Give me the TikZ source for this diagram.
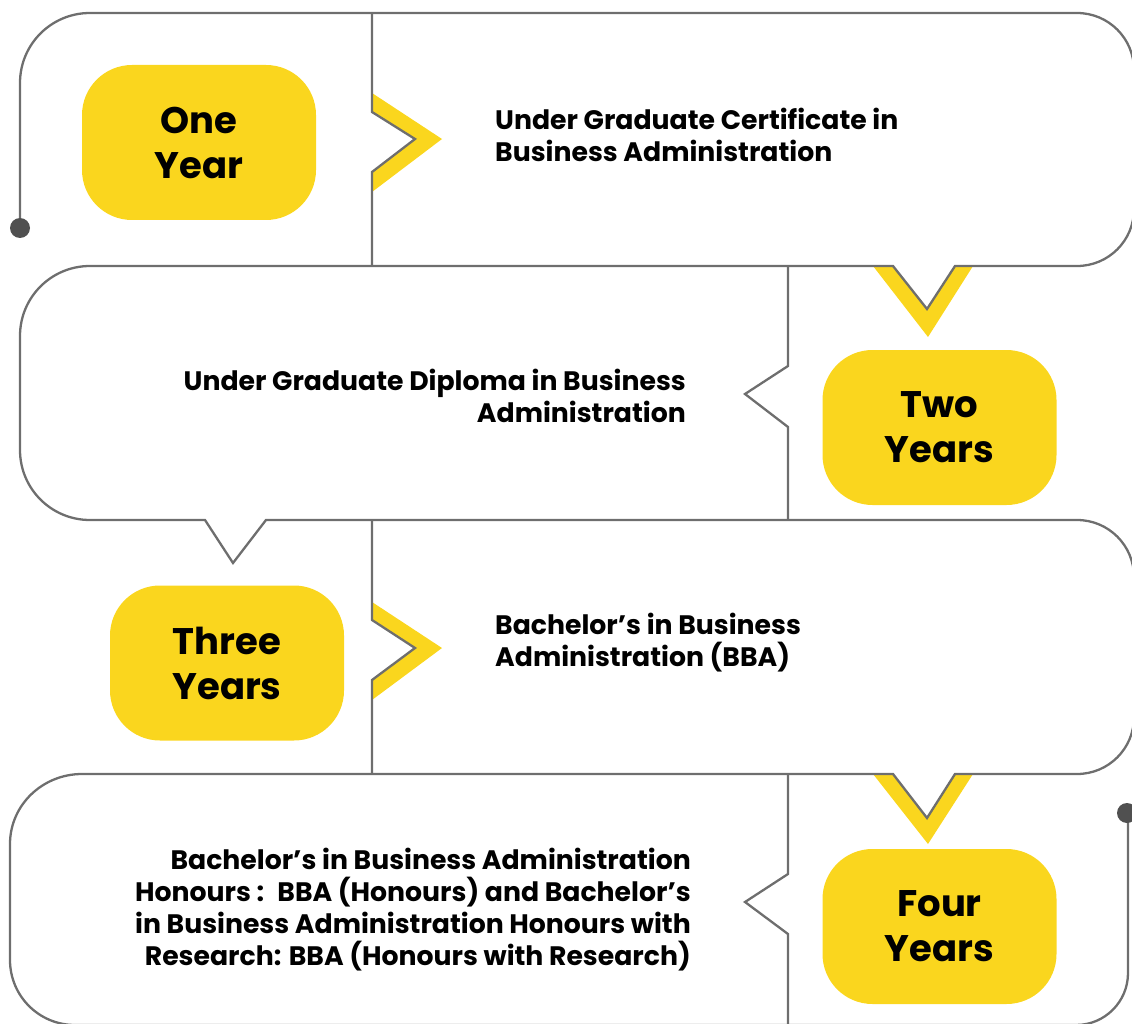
\documentclass[tikz,border=0pt]{standalone}
\usepackage{fontspec}
\setmainfont{Poppins}
\definecolor{linegray}{RGB}{110,110,110}
\definecolor{dotgray}{RGB}{80,80,80}
\definecolor{yel}{RGB}{250,214,30}
\tikzset{
  outline/.style={draw=linegray, line width=2.3pt, line join=miter},
  yearbox/.style={fill=yel, rounded corners=50pt, minimum width=234pt, minimum height=155pt,
    inner sep=0pt, align=center, font=\fontsize{37}{45}\selectfont\bfseries},
  desc/.style={inner sep=0pt, font=\fontsize{26.7}{32}\selectfont\bfseries},
  chev/.style={fill=yel},
  enddot/.style={circle, fill=dotgray, minimum size=20pt, inner sep=0pt}
}
\begin{document}
\begin{tikzpicture}[x=1pt,y=-1pt]
\useasboundingbox (0,0) rectangle (1132,1024);
\clip (0,0) rectangle (1132,1024);
% yellow chevrons
\fill[chev] (372,93) -- (442,139) -- (372,192) -- (372,172) -- (415,139) -- (372,112) -- cycle;
\fill[chev] (873,266) -- (928,337) -- (973,266) -- (955,266) -- (927,309) -- (893,266) -- cycle;
\fill[chev] (372,602) -- (442,648) -- (372,700) -- (372,680) -- (415,648) -- (372,620) -- cycle;
\fill[chev] (873,774) -- (928,844) -- (973,774) -- (955,774) -- (927,818) -- (893,774) -- cycle;
% serpentine outline
\coordinate (start) at (20,228);
\coordinate (finish) at (1128,813);
\draw[outline] (start) -- (20,83) to[out=90,in=180] (90,13) -- (1077,13)
  to[out=0,in=90] (1134,70) -- (1134,209) to[out=270,in=0] (1077,266)
  -- (955,266) -- (927,309) -- (893,266) -- (90,266)
  to[out=180,in=90] (20,336) -- (20,450) to[out=270,in=180] (90,520)
  -- (205,520) -- (233,563) -- (266,520) -- (1077,520)
  to[out=0,in=90] (1134,577) -- (1134,717) to[out=270,in=0] (1077,774)
  -- (955,774) -- (927,818) -- (893,774) -- (82,774)
  to[out=180,in=90] (10,844) -- (10,960) to[out=270,in=180] (75,1025)
  -- (1076,1025) to[out=0,in=270] (1128,973) -- (finish);
% dividers
\draw[outline] (372,13) -- (372,112) -- (415,139) -- (372,172) -- (372,266);
\draw[outline] (788,266) -- (788,366) -- (745,394) -- (788,427) -- (788,520);
\draw[outline] (372,520) -- (372,620) -- (415,648) -- (372,680) -- (372,774);
\draw[outline] (788,774) -- (788,874) -- (745,902) -- (788,934) -- (788,1030);
% end dots
\node[enddot] (d1) at (start) {};
\node[enddot] (d2) at (1127,813) {};
% year boxes
\node[yearbox] (y1) at (199,142.5) {One\\Year};
\node[yearbox] (y2) at (939.5,427.5) {Two\\Years};
\node[yearbox] (y3) at (227,663) {Three\\Years};
\node[yearbox] (y4) at (939.5,926.5) {Four\\Years};
% descriptions (base anchor = last line baseline)
\node[desc, align=left, anchor=base west] (t1) at (495,162) {Under Graduate Certificate in\\Business Administration};
\node[desc, align=right, anchor=base east] (t2) at (686,422) {Under Graduate Diploma in Business\\Administration};
\node[desc, align=left, anchor=base west] (t3) at (495,666) {Bachelor’s in Business\\Administration (BBA)};
\node[desc, align=right, anchor=base east] (t4) at (691,965) {Bachelor’s in Business Administration\\Honours :~ BBA (Honours) and Bachelor’s\\in Business Administration Honours with\\Research: BBA (Honours with Research)};
\end{tikzpicture}
\end{document}
